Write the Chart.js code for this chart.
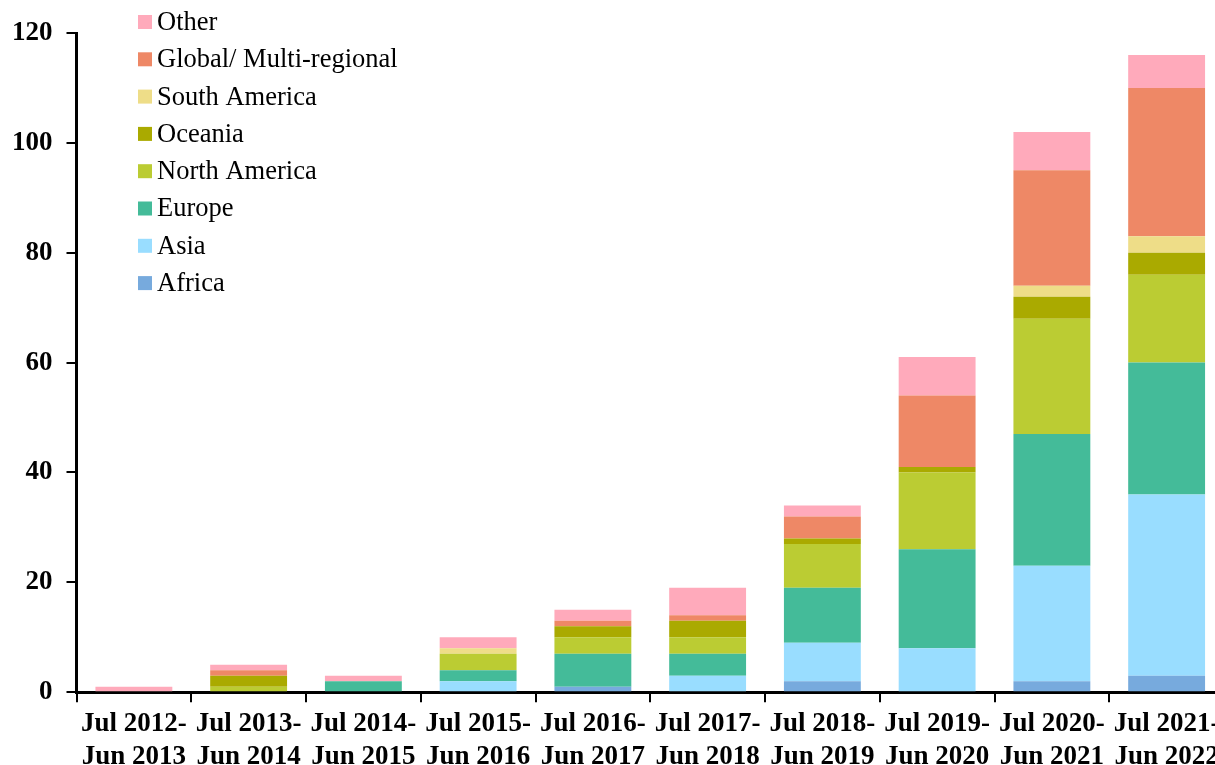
<!DOCTYPE html>
<html>
<head>
<meta charset="utf-8">
<title>Proyectos por region</title>
<script src="https://cdn.jsdelivr.net/npm/chart.js@4/dist/chart.umd.min.js"></script>
<style>
    html, body { margin: 0; padding: 0; background: #fff; overflow: hidden; }
    canvas { display: block; margin-left: -10px; }
</style>
</head>
<body>
<canvas id="grafico" width="1250" height="783"></canvas>
<script>
// ================== DATOS ==================

// Periodos (eje x), dos lineas por etiqueta
const periodos = [
    ['Jul 2012-', 'Jun 2013'], ['Jul 2013-', 'Jun 2014'], ['Jul 2014-', 'Jun 2015'],
    ['Jul 2015-', 'Jun 2016'], ['Jul 2016-', 'Jun 2017'], ['Jul 2017-', 'Jun 2018'],
    ['Jul 2018-', 'Jun 2019'], ['Jul 2019-', 'Jun 2020'], ['Jul 2020-', 'Jun 2021'],
    ['Jul 2021-', 'Jun 2022']
];

// Valores por region (de abajo hacia arriba en la pila)
const africa      = [0, 0, 0, 0, 1, 0, 2, 0, 2, 3];
const asia        = [0, 0, 0, 2, 0, 3, 7, 8, 21, 33];
const europe      = [0, 0, 2, 2, 6, 4, 10, 18, 24, 24];
const northAm     = [0, 1, 0, 3, 3, 3, 8, 14, 21, 16];
const oceania     = [0, 2, 0, 0, 2, 3, 1, 1, 4, 4];
const southAm     = [0, 0, 0, 1, 0, 0, 0, 0, 2, 3];
const globalMulti = [0, 1, 0, 0, 1, 1, 4, 13, 21, 27];
const other       = [1, 1, 1, 2, 2, 5, 2, 7, 7, 6];

// Ticks del eje y
const ticksY = [0, 20, 40, 60, 80, 100, 120];

// ================== CONFIGURACION ==================

const fuente = "'Liberation Serif', 'Times New Roman', serif";

function serie(label, data, color) {
    return {
        label: label,
        data: data,
        backgroundColor: color,
        borderWidth: 0,
        barPercentage: 0.67,
        categoryPercentage: 1.0
    };
}

// Leyenda dibujada dentro del area del grafico, orden invertido
// (el canvas esta corrido 10px a la izquierda)
const leyendaInterna = {
    id: 'leyendaInterna',
    afterDraw: function (chart) {
        const ctx = chart.ctx;
        const ds = chart.data.datasets;
        ctx.save();
        ctx.font = '26.5px ' + fuente;
        ctx.textBaseline = 'middle';
        ctx.textAlign = 'left';
        for (let i = ds.length - 1, n = 0; i >= 0; i--, n++) {
            const y = 22 + n * 37.3;
            ctx.fillStyle = ds[i].backgroundColor;
            ctx.fillRect(148, y - 7, 14, 14);
            ctx.fillStyle = '#000';
            ctx.fillText(ds[i].label, 167, y + 1);
        }
        ctx.restore();
    }
};

const config = {
    type: 'bar',
    data: {
        labels: periodos,
        datasets: [
            serie('Africa', africa, '#77AADD'),
            serie('Asia', asia, '#99DDFF'),
            serie('Europe', europe, '#44BB99'),
            serie('North America', northAm, '#BBCC33'),
            serie('Oceania', oceania, '#AAAA00'),
            serie('South America', southAm, '#EEDD88'),
            serie('Global/ Multi-regional', globalMulti, '#EE8866'),
            serie('Other', other, '#FFAABB')
        ]
    },
    options: {
        responsive: false,
        animation: false,
        layout: { padding: { top: 33, left: 8, right: 16, bottom: 4 } },
        plugins: {
            legend: { display: false },
            tooltip: { enabled: false }
        },
        scales: {
            x: {
                stacked: true,
                grid: { drawOnChartArea: false, color: '#000', lineWidth: 2, tickLength: 10, offset: true },
                border: { color: '#000', width: 3 },
                ticks: {
                    color: '#000',
                    font: { family: fuente, size: 27, weight: 'bold' },
                    maxRotation: 0,
                    autoSkip: false,
                    padding: 6
                }
            },
            y: {
                stacked: true,
                min: 0,
                max: 120,
                afterBuildTicks: function (eje) {
                    eje.ticks = ticksY.map(function (v) { return { value: v }; });
                },
                grid: { drawOnChartArea: false, color: '#000', lineWidth: 2, tickLength: 10 },
                border: { color: '#000', width: 3 },
                ticks: {
                    color: '#000',
                    font: { family: fuente, size: 27, weight: 'bold' },
                    padding: 14
                }
            }
        }
    },
    plugins: [leyendaInterna]
};

// Crear grafico
let chartBarras = new Chart(document.getElementById('grafico'), config);
</script>
</body>
</html>
